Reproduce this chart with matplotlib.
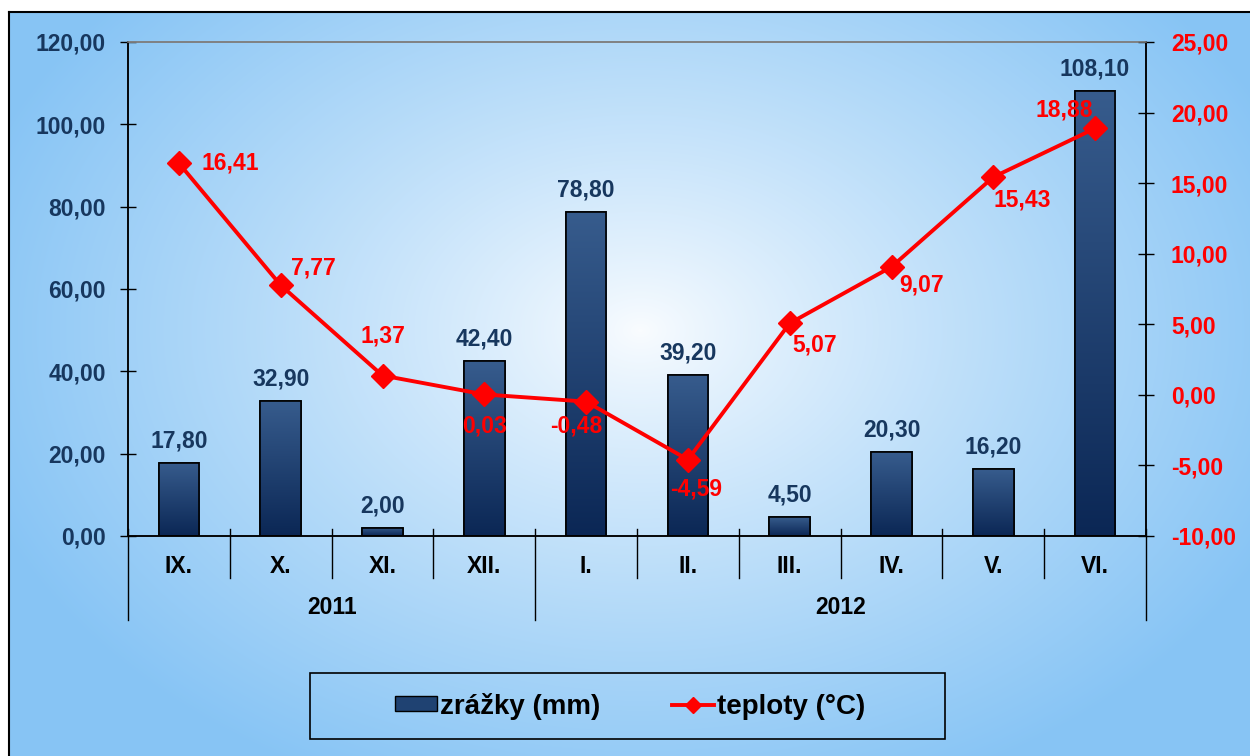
import matplotlib
matplotlib.use("Agg")
import matplotlib.pyplot as plt
import numpy as np
from matplotlib.colors import LinearSegmentedColormap
from matplotlib.patches import Patch, Rectangle
from matplotlib.lines import Line2D
from matplotlib import ticker

plt.rcParams['font.family'] = ['Liberation Sans', 'DejaVu Sans']
plt.rcParams['font.weight'] = 'bold'

months = ['IX.', 'X.', 'XI.', 'XII.', 'I.', 'II.', 'III.', 'IV.', 'V.', 'VI.']
years = ['2011', '2012']
year_span = [(0, 3), (4, 9)]
rain = [17.80, 32.90, 2.00, 42.40, 78.80, 39.20, 4.50, 20.30, 16.20, 108.10]
temp = [16.41, 7.77, 1.37, 0.03, -0.48, -4.59, 5.07, 9.07, 15.43, 18.88]

# label offsets for the temperature values (pixels), with alignment
temp_off = [(23, 0, 'left'), (10, 17, 'left'), (0, 40, 'center'), (0, -32, 'center'),
            (-10, -24, 'center'), (8, -29, 'center'), (3, -22, 'left'), (8, -18, 'left'),
            (0, -23, 'left'), (-2, 18, 'right')]

NAVY = '#17375e'
RED = '#ff0000'
W, H = 1250, 756
FS = 16.5


def fmt(v, pos=None):
    return '{:.2f}'.format(v).replace('.', ',')


fig = plt.figure(figsize=(W / 100, H / 100), dpi=100)
fig.patch.set_facecolor('white')

# background: radial gradient in a frame
bg = fig.add_axes([9 / W, 0, 1 - 9 / W, 744 / H])
bg.set_axis_off()
yy, xx = np.mgrid[12:756, 9:1250]
d = np.sqrt(((xx - 640) / 700.0) ** 2 + ((yy - 330) / 500.0) ** 2)
d = np.clip(d, 0, 1) ** 0.85
c0 = np.array([0.98, 0.99, 1.0])
c1 = np.array([0.53, 0.77, 0.96])
img = c0[None, None, :] * (1 - d[..., None]) + c1[None, None, :] * d[..., None]
bg.imshow(img, extent=[0, 1, 0, 1], aspect='auto', origin='upper')
fig.add_artist(Line2D([9 / W, 1], [744 / H, 744 / H], color='black', lw=1.5))
fig.add_artist(Line2D([9 / W, 9 / W], [0, 744 / H], color='black', lw=1.5))

ax = fig.add_axes([128 / W, 1 - 536 / H, (1146 - 128) / W, (536 - 42) / H])
ax.set_facecolor('none')
ax2 = ax.twinx()

x = np.arange(len(months))
bars = ax.bar(x, rain, width=0.4, color='#1f4272', edgecolor='black', linewidth=1.2, zorder=2)
cmap = LinearSegmentedColormap.from_list('bar', ['#0b2755', '#375c8d'])
grad = np.linspace(0, 1, 256).reshape(-1, 1)
for b in bars:
    x0, w, h = b.get_x(), b.get_width(), b.get_height()
    im = ax.imshow(grad, extent=[x0, x0 + w, 0, h], origin='lower', cmap=cmap,
                   aspect='auto', zorder=2.2)
    im.set_clip_path(b)
ax.bar(x, rain, width=0.4, fill=False, edgecolor='black', linewidth=1.2, zorder=2.5)

for xi, v in zip(x, rain):
    ax.annotate(fmt(v), (xi, v), xytext=(0, 22), textcoords='offset pixels',
                ha='center', va='center', color=NAVY, fontsize=FS, fontweight='bold', zorder=4)

ax2.plot(x, temp, color=RED, lw=2.8, marker='D', markersize=12, zorder=3)
for xi, v, (dx, dy, ha) in zip(x, temp, temp_off):
    ax2.annotate(fmt(v), (xi, v), xytext=(dx, dy), textcoords='offset pixels',
                 ha=ha, va='center', color=RED, fontsize=FS, fontweight='bold', zorder=5)

ax.set_xlim(-0.5, 9.5)
ax.set_ylim(0, 120)
ax.set_yticks(np.arange(0, 121, 20))
ax.yaxis.set_major_formatter(ticker.FuncFormatter(fmt))
ax2.set_ylim(-10, 25)
ax2.set_yticks(np.arange(-10, 26, 5))
ax2.yaxis.set_major_formatter(ticker.FuncFormatter(fmt))

ax.tick_params(axis='y', direction='inout', length=12, width=1, pad=10,
               labelsize=FS, labelcolor=NAVY)
ax2.tick_params(axis='y', direction='inout', length=12, width=1, pad=12,
                labelsize=FS, labelcolor=RED)
ax.set_xticks(x)
ax.set_xticklabels(months, fontsize=FS, fontweight='bold', color='black')
ax.tick_params(axis='x', length=0, pad=14)

for a in (ax, ax2):
    for s in a.spines.values():
        s.set_linewidth(1.1)
        s.set_color('black')
    a.spines['top'].set_color('#7f7f7f')

# category separators and year groups under the axis
trans = ax.get_xaxis_transform()
for b in np.arange(-0.5, 10, 1.0):
    long_line = b in (-0.5, 3.5, 9.5)
    y_end = -84 / 494 if long_line else -42 / 494
    ax.plot([b, b], [7 / 494, y_end], color='black', lw=1, transform=trans,
            clip_on=False, zorder=1)
for name, (a0, a1) in zip(years, year_span):
    ax.text((a0 + a1) / 2, -71 / 494, name, transform=trans, ha='center', va='center',
            fontsize=FS, fontweight='bold', color='black')

# legend
fig.add_artist(Rectangle((310 / W, 1 - 739 / H), 635 / W, 66 / H, transform=fig.transFigure,
                         fill=False, edgecolor='black', lw=1.2))
handles = [Patch(facecolor='#1f4272', edgecolor='black'),
           Line2D([0], [0], color=RED, lw=2.8, marker='D', markersize=8)]
fig.legend(handles, ['zrážky (mm)', 'teploty (°C)'], loc='center',
           bbox_to_anchor=(630 / W, 1 - 706 / H), ncol=2, frameon=False,
           prop={'size': 20, 'weight': 'bold'}, handlelength=1.5, handleheight=0.45,
           handletextpad=0.1, columnspacing=2.6)

fig.savefig('out.png', dpi=100)
